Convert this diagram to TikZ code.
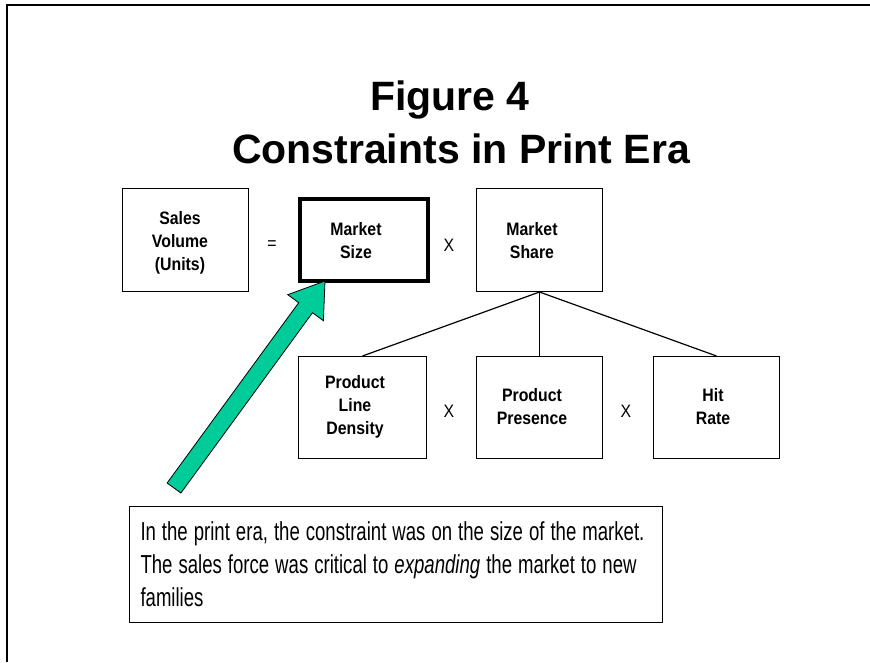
\documentclass[tikz,border=0pt]{standalone}
\usepackage{fontspec}
\setmainfont{Liberation Sans}
\newfontfamily\boxfont[FakeStretch=0.88]{Liberation Sans}
\newfontfamily\capfont[FakeStretch=0.715]{Liberation Sans}
\definecolor{arrowgreen}{RGB}{0,204,153}
\newcommand{\tightline}[1]{\mbox{\spaceskip=6pt\relax\xspaceskip=6pt\relax #1}}
\begin{document}
\begin{tikzpicture}[x=1pt,y=-1pt,
  box/.style={draw, line width=1, minimum width=126, minimum height=103, inner sep=0, anchor=north west},
  lbl/.style={font={\boxfont\bfseries\fontsize{18}{23}\selectfont}, align=center, inner sep=0},
  op/.style={font={\boxfont\fontsize{18}{18}\selectfont}, inner sep=0},
  tree/.style={line width=1.2},
  titlefont/.style={font={\bfseries\fontsize{41}{41}\selectfont}, inner sep=0, anchor=base}
]
\useasboundingbox (0,0) rectangle (870,662);
\fill[white] (0,0) rectangle (870,662);
\draw[line width=2] (7,662) -- (7,5) -- (870,5);

% title
\node[titlefont] (t1) at (450,110) {Figure 4};
\node[titlefont] (t2) at (461,163) {Constraints in Print Era};

% boxes
\node[box] (sales) at (122,188) {};
\node[box, line width=4, minimum width=128, minimum height=82] (msize) at (298,197) {};
\node[box] (mshare) at (476,188) {};
\node[box, minimum width=128, minimum height=102] (pld) at (298,356) {};
\node[box, minimum height=102] (pp) at (476,356) {};
\node[box, minimum height=102] (hr) at (653,356) {};

% labels
\node[lbl] (salest) at (180,243) {Sales\\Volume\\(Units)};
\node[lbl] (msizet) at (356,241) {Market\\Size};
\node[lbl] (msharet) at (532,241) {Market\\Share};
\node[lbl] (pldt) at (355,407) {Product\\Line\\Density};
\node[lbl] (ppt) at (532,407) {Product\\Presence};
\node[lbl] (hrt) at (713,407) {Hit\\Rate};

% operators
\node[op] (eq) at (272,245) {=};
\node[op] (x1) at (449,245) {X};
\node[op] (x2) at (449,411) {X};
\node[op] (x3) at (626,411) {X};

% tree connectors
\draw[tree] (mshare.south) -- (pld.north);
\draw[tree] (mshare.south) -- (pp.north);
\draw[tree] (mshare.south) -- (hr.north);

% green arrow
\coordinate (tip) at (325,281);
\coordinate (barbR) at (323.4,320.7);
\coordinate (innR) at (312.5,312.7);
\coordinate (tailR) at (180.9,493);
\coordinate (tailL) at (167.1,483);
\coordinate (innL) at (298.7,302.7);
\coordinate (barbL) at (287.8,294.7);
\filldraw[fill=arrowgreen, draw=black, line width=0.8, line join=miter]
  (tip) -- (barbR) -- (innR) -- (tailR) -- (tailL) -- (innL) -- (barbL) -- cycle;

% caption
\node[draw, line width=1, anchor=north west, minimum width=533, minimum height=116,
  text width=511, inner xsep=11, inner ysep=0, align=left,
  font={\capfont\fontsize{26}{33}\selectfont}] (cap) at (129,506)
  {\tightline{In the print era, the constraint was on the size of the market.}\\\tightline{The sales force was critical to \textit{expanding} the market to new}\\\tightline{families}};
\end{tikzpicture}
\end{document}
